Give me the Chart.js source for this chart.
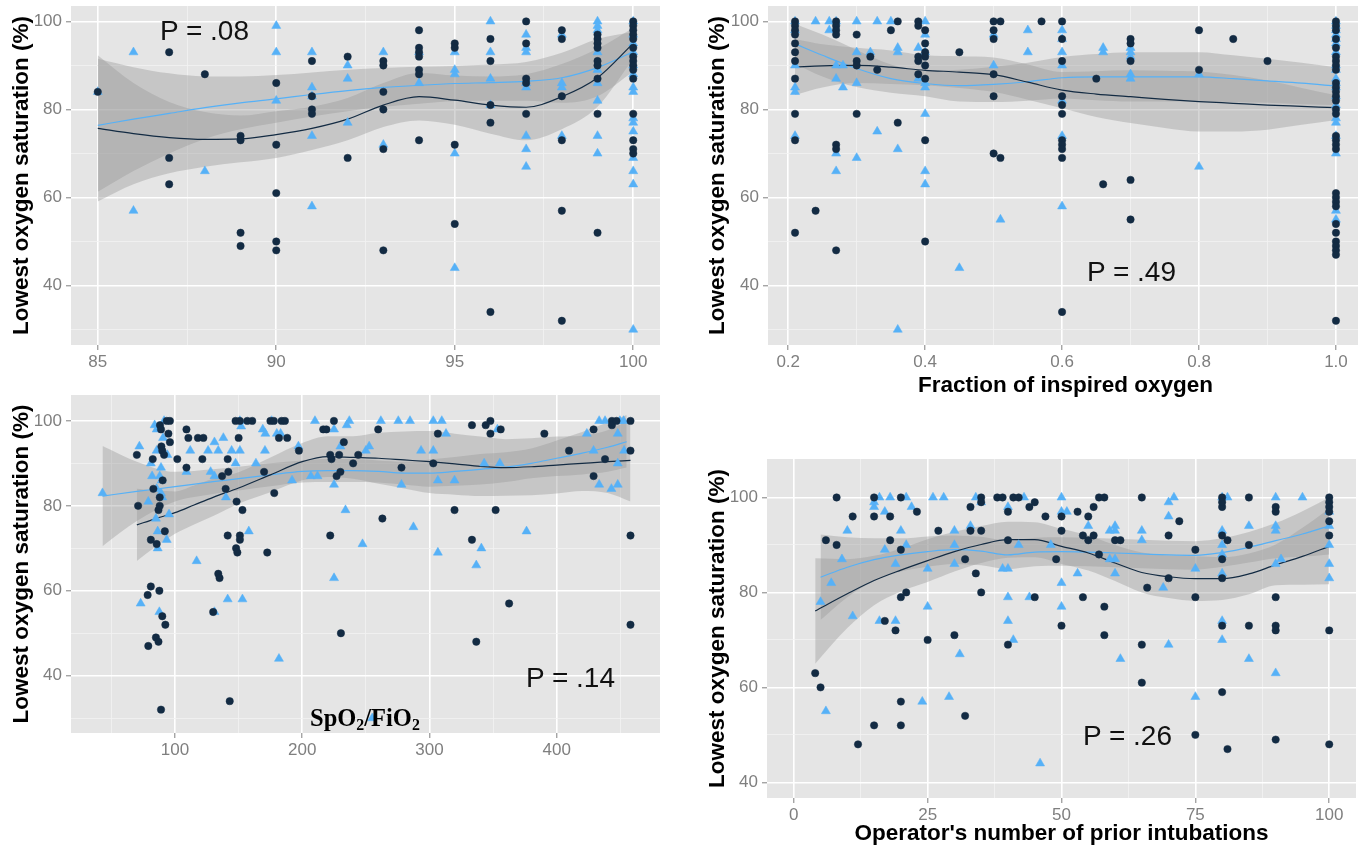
<!DOCTYPE html>
<html><head><meta charset="utf-8">
<script src="https://cdn.jsdelivr.net/npm/chart.js@4.4.1/dist/chart.umd.min.js"></script>
<style>
html,body{margin:0;padding:0;width:1358px;height:849px;overflow:hidden;background:#fff;}
canvas{position:absolute;}
.p{position:absolute;font-family:'Liberation Sans',Arial,sans-serif;font-size:28px;line-height:1;color:#111;white-space:nowrap;}
.lab{position:absolute;font-family:'Liberation Serif','Times New Roman',serif;font-weight:bold;font-size:24.5px;line-height:1;color:#000;white-space:nowrap;}
.lab sub{font-size:0.65em;vertical-align:baseline;position:relative;top:0.22em;line-height:0;}
</style></head><body>
<canvas id="c1"></canvas><canvas id="c2"></canvas><canvas id="c3"></canvas><canvas id="c4"></canvas>
<div class="p" style="left:160px;top:17px">P = .08</div>
<div class="p" style="left:1087px;top:258px">P = .49</div>
<div class="p" style="left:526px;top:664px">P = .14</div>
<div class="p" style="left:1083px;top:722px">P = .26</div>
<div class="lab" style="left:310px;top:706px">SpO<sub>2</sub>/FiO<sub>2</sub></div>
<script>
// ---------- Panel 1: pre-intubation SpO2 ----------
const spo2Dark = [[85,84],[87,93],[87,69],[87,63],[88,88],[89,74],[89,73],[89,52],[89,49],
 [90,86],[90,72],[90,61],[90,50],[90,48],[91,91],[91,83],[91,80],[91,79],[92,92],[92,69],
 [93,91],[93,90],[93,84],[93,80],[93,71],[93,48],[94,98],[94,94],[94,93],[94,92],[94,89],[94,88],[94,73],
 [95,95],[95,94],[95,72],[95,54],[96,96],[96,91],[96,81],[96,77],[96,34],
 [97,100],[97,95],[97,87],[97,86],[97,79],[98,98],[98,96],[98,83],[98,73],[98,57],[98,32],
 [99,97],[99,96],[99,95],[99,94],[99,91],[99,90],[99,87],[99,79],[99,52],
 [100,100],[100,99],[100,98],[100,97],[100,96],[100,94],[100,92],[100,91],[100,90],[100,89],[100,87],[100,79],[100,73],[100,71],[100,70]];
const spo2Blue = [[85,84],[86,93],[86,57],[88,66],[90,99],[90,93],[90,82],[91,93],[91,85],[91,83],[91,74],[91,58],
 [92,90],[92,87],[92,77],[93,93],[93,72],[94,93],[94,86],[95,93],[95,89],[95,88],[95,70],[95,44],
 [96,100],[96,93],[96,87],[96,81],[97,97],[97,94],[97,93],[97,86],[97,85],[97,74],[97,71],[97,67],
 [98,97],[98,86],[98,85],[98,74],[99,100],[99,99],[99,98],[99,93],[99,89],[99,86],[99,82],[99,74],[99,70],
 [100,100],[100,97],[100,95],[100,93],[100,90],[100,88],[100,85],[100,84],[100,78],[100,77],[100,75],[100,69],[100,66],[100,63],[100,30]];
const spo2FitX   = [85,86,87,88,89,90,91,92,93,94,95,96,97,98,99,100];
const spo2DarkFit= [75.7,74.5,73.6,73.2,73.3,74.3,75.7,77.8,81.0,82.9,82.1,81.0,80.5,82.9,87.2,95.0];
const spo2DarkLo = [59.1,63.0,65.5,67.0,68.0,69.0,70.8,73.0,76.0,77.5,76.5,74.5,73.0,75.5,80.6,91.5];
const spo2DarkHi = [92.3,86.0,81.7,79.4,78.6,79.6,80.6,82.6,86.0,88.3,87.7,87.5,88.0,90.3,93.8,98.5];
const spo2BlueFit= [76.4,77.8,79.1,80.4,81.5,82.4,83.4,84.3,85.0,85.5,85.9,86.1,86.4,87.2,89.5,93.1];
const spo2BlueLo = [61.3,66.0,70.0,73.3,75.5,77.0,78.4,79.6,80.6,81.3,81.9,82.0,82.0,81.5,83.0,88.6];
const spo2BlueHi = [91.5,89.6,88.2,87.5,87.5,87.8,88.4,89.0,89.4,89.7,89.9,90.2,90.8,92.9,96.0,97.6];
const spo2XTicks = [85,90,95,100], spo2XTickLabels = ['85','90','95','100'], spo2XMinor = [87.5,92.5,97.5];

// ---------- Panel 2: FiO2 ----------
const fio2Dark = [[0.21,100],[0.21,99],[0.21,98],[0.21,97],[0.21,95],[0.21,93],[0.21,91],[0.21,87],[0.21,79],[0.21,73],[0.21,52],
 [0.24,57],[0.27,100],[0.27,99],[0.27,98],[0.27,97],[0.27,72],[0.27,71],[0.27,48],[0.30,97],[0.30,91],[0.30,90],[0.30,79],
 [0.32,92],[0.33,89],[0.35,98],[0.36,100],[0.36,77],[0.39,100],[0.39,99],[0.39,92],[0.39,91],[0.39,88],
 [0.40,98],[0.40,95],[0.40,93],[0.40,92],[0.40,90],[0.40,87],[0.40,73],[0.40,50],[0.45,93],
 [0.50,100],[0.50,98],[0.50,96],[0.50,88],[0.50,83],[0.50,70],[0.51,100],[0.51,69],[0.57,100],
 [0.60,100],[0.60,96],[0.60,91],[0.60,83],[0.60,81],[0.60,79],[0.60,73],[0.60,72],[0.60,71],[0.60,69],[0.60,34],
 [0.65,87],[0.66,63],[0.70,96],[0.70,95],[0.70,91],[0.70,64],[0.70,55],[0.80,98],[0.80,89],[0.85,96],[0.90,91],
 [1,100],[1,99],[1,98],[1,96],[1,94],[1,92],[1,91],[1,90],[1,89],[1,86],[1,85],[1,84],[1,83],[1,82],[1,80],[1,79],
 [1,74],[1,73],[1,72],[1,71],[1,61],[1,60],[1,59],[1,58],[1,54],[1,52],[1,50],[1,49],[1,48],[1,47],[1,32]];
const fio2Blue = [[0.21,100],[0.21,98],[0.21,90],[0.21,85],[0.21,84],[0.21,74],[0.24,100],[0.26,100],[0.26,98],
 [0.27,100],[0.27,90],[0.27,87],[0.27,70],[0.27,66],[0.28,90],[0.28,85],[0.30,100],[0.30,93],[0.30,86],[0.30,69],
 [0.32,93],[0.33,100],[0.33,75],[0.35,100],[0.36,94],[0.36,93],[0.36,71],[0.36,30],[0.39,94],[0.39,87],
 [0.40,100],[0.40,97],[0.40,93],[0.40,86],[0.40,85],[0.40,79],[0.40,66],[0.40,63],[0.45,44],[0.50,97],[0.50,90],[0.51,55],
 [0.55,98],[0.55,93],[0.60,98],[0.60,96],[0.60,93],[0.60,90],[0.60,82],[0.60,74],[0.60,58],[0.66,94],[0.66,93],
 [0.70,94],[0.70,93],[0.70,92],[0.70,88],[0.70,87],[0.80,88],[0.80,67],
 [1,100],[1,99],[1,98],[1,97],[1,96],[1,95],[1,93],[1,90],[1,89],[1,87],[1,86],[1,85],[1,83],[1,81],[1,78],[1,77],[1,74],[1,70],[1,57],[1,55]];
const fio2FitX    = [0.21,0.25,0.3,0.35,0.4,0.45,0.5,0.55,0.6,0.65,0.7,0.75,0.8,0.85,0.9,0.95,1.0];
const fio2DarkFit = [89.6,89.9,90.0,89.6,88.9,88.5,87.9,86.2,84.4,83.5,82.9,82.3,81.8,81.4,81.0,80.7,80.4];
const fio2DarkLo  = [83.3,85.0,86.0,85.8,85.5,84.9,84.0,82.2,80.3,78.3,76.9,75.8,75.0,75.0,75.4,76.5,77.6];
const fio2DarkHi  = [96.0,94.8,94.0,93.4,92.3,92.1,91.8,90.2,88.5,88.7,88.9,88.8,88.6,87.8,86.6,84.9,83.2];
const fio2BlueFit = [94.9,92.3,89.3,87.0,85.9,85.4,85.7,86.3,87.2,87.4,87.4,87.4,87.4,87.0,86.5,86.0,85.3];
const fio2BlueLo  = [90.4,87.5,85.1,83.8,83.0,81.8,81.7,82.0,82.5,82.1,81.8,81.8,81.8,81.7,81.5,81.2,81.0];
const fio2BlueHi  = [99.4,97.0,93.5,90.2,88.8,89.0,89.7,90.6,91.9,92.6,93.0,93.0,93.0,92.3,91.5,90.6,89.6];
const fio2XTicks = [0.2,0.4,0.6,0.8,1.0], fio2XTickLabels = ['0.2','0.4','0.6','0.8','1.0'], fio2XMinor = [0.3,0.5,0.7,0.9];

// ---------- Panel 3: SpO2/FiO2 ----------
const sfDark = [[70,92],[71,80],[79,47],[78.5,59],[81,61],[81,72],[82.5,91],[83,84],[85.6,71],[85,49],[87,48],[87.7,60],
 [87,79],[88,80],[88,82],[88.2,99],[89,98],[89.3,94],[90,93],[90.3,86],[91.4,92],[92,74],[92.4,52],[90,54],[89,32],
 [93.5,100],[96,100],[94.8,97],[96,95],[101.8,91],[109,98],[110.5,96],[109,89],[118,96],[122.3,96],[121.5,91],
 [134,64],[135,63],[130,55],[137,87],[139.8,84],[141.9,88],[141.4,91],[141.4,73],[143,34],[147.6,100],[151,100],
 [150,96],[148.4,81],[153,79],[151,73],[151,72],[148,70],[149,69],[156.8,100],[160.7,100],[170,88],[172.5,69],
 [178,83],[175,100],[177.7,100],[181.7,96],[188.2,96],[183.8,100],[186.4,100],[197.4,93],[216.5,98],[219,98],
 [222,73],[222,92],[223,91],[224.9,100],[232.7,95],[229,92],[230.4,50],[227,87],[230,88],[240,90],[244,92],
 [259.7,98],[263,77],[278,89],[303,90],[306.6,97],[319.7,79],[333.4,99],[333.4,72],[336.8,48],[344.2,99],
 [347.9,100],[347.9,97],[352,79],[356,98],[362.6,57],[390.3,97],[409.7,93],[429,87],[429,98],[438,91],
 [443.4,100],[443.4,99],[447,100],[458,100],[458,93],[458,73],[458,52]];
const sfBlue = [[43,83],[72,94],[73,57],[79,81],[81,90],[82,87],[84,99],[85,77],[85.6,98],[85.6,93],[85.6,84],
 [86.4,70],[86.4,74],[87.7,55],[88,87],[89.5,86],[89,89],[90,82],[89,83],[91.4,100],[90.6,96],[93.5,72],[94,92],
 [95.3,78],[109,88],[112,93],[117,67],[126,93],[131,95],[134,93],[138,96],[128,88],[131,87],[131,55],[140,82],
 [141.4,58],[144.5,93],[147.6,90],[151,93],[151,100],[152,98.7],[153,58],[158,74],[163.6,90],[169,98],[171,97],
 [170.7,93],[176,100],[180,97],[183,97],[181.7,44],[192,86],[197,94],[206.8,87],[212,87],[210,100],[225,98],
 [225,85],[225,63],[230,94],[234,79],[235,99],[237,100],[247.4,71],[250,93],[255,30],
 [252.6,94],[261.8,100],[275.5,100],[284.7,100],[303,100],[309.7,100],[313,97],[293.4,93],[303,93],[278,85],
 [287.4,75],[306.6,86],[319.7,86],[306.6,69],[340.8,70],[336.8,66],[343,90],[355.3,90],[353.4,98],[376.3,74],
 [423.7,97],[429,93],[433.4,85],[433.4,100],[438,100],[443,84],[448,85],[448,97],[448,90],[449.7,100],[452.6,100],[453,93]];
const sfDarkFitX = [70,85,100,115,130,150,175,200,220,240,260,280,300,320,340,360,380,400,420,440,458];
const sfDarkFit  = [75.5,77.0,78.4,80.2,82.0,84.2,87.3,90.4,91.6,91.4,91.2,90.8,90.4,89.9,89.3,89.0,89.2,89.6,90.0,90.4,90.7];
const sfDarkLo   = [67.0,70.4,73.4,75.6,77.6,80.5,83.2,86.0,86.8,86.4,85.2,84.1,83.0,82.6,82.3,82.4,82.5,82.9,83.5,83.0,81.0];
const sfDarkHi   = [84.0,83.6,83.4,84.8,86.4,87.9,91.4,94.8,96.4,96.4,97.2,97.5,97.6,97.0,96.3,95.7,95.9,96.3,96.5,97.8,100.4];
const sfBlueFitX = [43,70,100,130,150,175,200,220,240,260,280,300,320,340,360,380,400,420,440,455];
const sfBlueFit  = [82.3,83.4,84.5,85.7,86.4,87.3,88.1,88.3,88.3,88.1,87.7,87.7,88.1,88.6,89.1,90.0,91.2,92.4,93.8,95.1];
const sfBlueLo   = [70.5,76.4,81.0,82.8,83.6,84.6,85.5,85.6,85.6,85.5,85.0,84.5,84.7,85.0,85.6,86.5,87.0,87.4,88.0,89.0];
const sfBlueHi   = [94.1,90.4,88.0,88.6,89.2,90.0,90.7,91.0,91.0,90.7,90.4,90.9,91.5,92.2,92.6,93.5,95.4,97.4,99.6,101.4];
const sfXTicks = [100,200,300,400], sfXTickLabels = ['100','200','300','400'], sfXMinor = [50,150,250,350,450];

// ---------- Panel 4: operator's prior intubations ----------
const opDark = [[4,63],[5,60],[6,91],[8,100],[8,90],[11,96],[12,48],[15,100],[15,96],[15,52],[17,74],[18,96],[18,91],
 [19,72],[20,100],[20,89],[20,79],[21,80],[20,57],[20,52],[23,97],[25,70],[27,93],[30,71],[32,87],[32,54],[33,98],
 [33,93],[35,93],[34,84],[35,100],[35,99],[35,80],[38,100],[39,100],[41,100],[42,100],[40,97],[40,91],[40,69],
 [44,98],[45,99],[45,79],[47,96],[49,87],[50,96],[50,93],[50,73],[53,97],[55,96],[56,98],[54,92],[55,91],[56,92],
 [57,88],[57,100],[58,100],[58,77],[58,71],[54,79],[60,91],[61,91],[65,100],[65,69],[65,61],[66,81],[70,92],[70,83],
 [72,95],[75,89],[75,79],[75,50],[80,100],[80,98],[80,99],[80,92],[80,87],[80,83],[80,73],[80,59],[81,91],[81,47],
 [85,100],[85,90],[85,73],[90,98],[90,97],[90,79],[90,73],[90,72],[90,49],
 [100,100],[100,99],[100,98],[100,97],[100,95],[100,92],[100,72],[100,48]];
const opBlue = [[5,78],[6,55],[7,82],[9,87],[10,93],[11,75],[15,98],[15,99],[16,100],[18,100],[17,97],[16,74],[19,74],
 [17,89],[19,86],[20,93],[21,100],[22,98],[21,90],[24,57],[25,77],[25,85],[26,100],[28,100],[29,58],[30,93],[30,90],
 [30,86],[31,67],[33,94],[34,100],[35,99],[39,85],[40,85],[40,79],[40,74],[40,98],[41,70],[42,90],[43,100],[44,79],
 [46,44],[48,90],[50,100],[50,97],[50,82],[50,77],[51,97],[53,84],[55,94],[59,93],[60,94],[60,93],[59,87],[60,87],
 [60,84],[61,66],[65,93],[65,91],[69,81],[70,99],[71,100],[70,96],[70,69],[80,100],[81,100],[80,93],[80,90],[80,88],
 [80,84],[80,74],[80,70],[75,85],[75,58],[85,94],[85,66],[90,100],[90,94],[90,93],[90,86],[91,87],[90,63],[95,100],
 [100,97],[100,94],[100,90],[100,86],[100,83]];
const opDarkFitX = [4,10,15,20,25,30,35,40,45,50,55,60,65,70,75,80,85,90,95,100];
const opDarkFit  = [76.1,79.7,82.5,84.7,86.7,88.6,90.1,91.1,91.1,89.7,88.3,86.2,84.2,83.3,82.9,82.9,83.9,85.8,87.6,89.7];
const opDarkLo   = [65.0,72.5,77.3,80.2,82.2,84.4,86.2,87.3,87.4,86.0,84.6,82.4,80.0,78.8,78.2,78.4,79.6,81.5,81.6,81.7];
const opDarkHi   = [87.2,87.0,87.7,89.2,91.2,92.8,94.0,94.9,94.8,93.4,92.0,90.0,88.4,87.8,87.6,87.4,88.2,90.1,93.6,97.7];
const opBlueFitX = [5,10,15,20,25,30,35,40,45,50,55,60,65,70,75,80,85,90,95,100];
const opBlueFit  = [83.2,85.3,86.9,87.9,88.6,89.0,88.7,87.9,88.5,88.6,88.5,88.3,88.1,87.9,87.8,88.4,89.5,90.9,92.3,94.0];
const opBlueLo   = [74.2,79.0,82.4,84.4,85.4,86.0,85.7,84.9,85.5,85.6,85.5,85.3,85.1,84.9,84.8,85.4,86.3,87.2,87.5,88.0];
const opBlueHi   = [92.2,91.6,91.4,91.4,91.8,92.0,91.7,90.9,91.5,91.6,91.5,91.3,91.1,90.9,90.8,91.4,92.7,94.6,97.1,100.0];
const opXTicks = [0,25,50,75,100], opXTickLabels = ['0','25','50','75','100'], opXMinor = [12.5,37.5,62.5,87.5];

// shared y ticks
const yTicks = [40,60,80,100], yTickLabels = ['40','60','80','100'];
const yMinorA = [30,50,70,90], yMinorB = [50,70,90];
const yTitle = 'Lowest oxygen saturation (%)';

const DARK = '#132B43', BLUE = '#56B1F7', BAND = 'rgba(153,153,153,0.4)';
const NARROW = "'Liberation Sans Narrow','Liberation Sans',Arial,sans-serif";
const SANS = "'Liberation Sans',Arial,sans-serif";
const TICKC = '#7f7f7f';

const bgPlugin = {id:'panelbg', beforeDraw(chart){const a=chart.chartArea,c=chart.ctx;c.save();c.fillStyle='#E5E5E5';c.fillRect(a.left,a.top,a.right-a.left,a.bottom-a.top);c.restore();}};

function pairs(p){return p.map(d=>({x:d[0],y:d[1]}));}
function zip(xs,ys){return xs.map((x,i)=>({x:x,y:ys[i]}));}

function axis(min,max,major,labels,minor,fitSize,horizontal,title,titlePad){
  const isMajor=v=>major.some(m=>Math.abs(m-v)<1e-9);
  return {
    type:'linear', min:min, max:max,
    afterBuildTicks:s=>{ s.ticks = major.concat(minor).sort((a,b)=>a-b).map(v=>({value:v})); },
    afterFit:s=>{ if(horizontal){s.height=fitSize;} else {s.width=fitSize;} s.paddingLeft=0;s.paddingRight=0;s.paddingTop=0;s.paddingBottom=0; },
    border:{display:false},
    grid:{
      color:c=>(c.tick&&isMajor(c.tick.value))?'#FFFFFF':'#F2F2F2',
      lineWidth:c=>(c.tick&&isMajor(c.tick.value))?1.6:0.8,
      tickColor:c=>(c.tick&&isMajor(c.tick.value))?TICKC:'rgba(0,0,0,0)',
      tickWidth:1, tickLength:5, drawTicks:true
    },
    ticks:{autoSkip:false,maxRotation:0,minRotation:0,padding:horizontal?2:4,color:TICKC,
      font:{family:NARROW,size:17},
      callback:(v)=>{const i=major.findIndex(m=>Math.abs(m-v)<1e-9);return i>=0?labels[i]:'';}},
    title: title?{display:true,text:title,color:'#000',font:{family:SANS,size:22.5,weight:'bold'},
      padding: horizontal?{top:0,bottom:titlePad}:{top:titlePad,bottom:0}}:{display:false}
  };
}

function makePanel(o){
  const cv=document.getElementById(o.id);
  cv.width=o.w; cv.height=o.h; cv.style.left=o.left+'px'; cv.style.top=o.top+'px';
  const line=(data,col)=>({data:data,borderColor:col,borderWidth:1.2,pointRadius:0,cubicInterpolationMode:'monotone',fill:false,order:2});
  const edge=(data,fill)=>({data:data,borderColor:'rgba(0,0,0,0)',borderWidth:1,pointRadius:0,cubicInterpolationMode:'monotone',fill:fill,backgroundColor:BAND,order:3});
  new Chart(cv,{
    type:'line',
    data:{datasets:[
      {data:pairs(o.dark),showLine:false,pointStyle:'circle',pointRadius:3.7,pointBackgroundColor:DARK,pointBorderColor:DARK,pointBorderWidth:0.5,order:0},
      {data:pairs(o.blue),showLine:false,pointStyle:'triangle',pointRadius:5.2,pointBackgroundColor:BLUE,pointBorderColor:BLUE,pointBorderWidth:0.5,order:1},
      line(zip(o.dfx,o.dfit),DARK),
      line(zip(o.bfx,o.bfit),BLUE),
      edge(zip(o.dfx,o.dhi),false),
      edge(zip(o.dfx,o.dlo),'-1'),
      edge(zip(o.bfx,o.bhi),false),
      edge(zip(o.bfx,o.blo),'-1')
    ]},
    options:{
      responsive:false,animation:false,devicePixelRatio:1,
      layout:{autoPadding:false,padding:{top:o.padTop,left:0,right:0,bottom:0}},
      plugins:{legend:{display:false},tooltip:{enabled:false}},
      elements:{point:{hoverRadius:0}},
      scales:{
        x:axis(o.xmin,o.xmax,o.xt,o.xl,o.xm,o.xH,true,o.xTitle,o.xTitlePad),
        y:axis(o.ymin,o.ymax,yTicks,yTickLabels,o.ym,71,false,yTitle,o.yTitlePad)
      }
    },
    plugins:[bgPlugin]
  });
}

makePanel({id:'c1',left:0,top:0,w:660,h:380,padTop:6,xH:35,
  xmin:84.25,xmax:100.75,xt:spo2XTicks,xl:spo2XTickLabels,xm:spo2XMinor,
  ymin:26.5,ymax:103.5,ym:yMinorA,yTitlePad:8.5,
  dark:spo2Dark,blue:spo2Blue,dfx:spo2FitX,dfit:spo2DarkFit,dlo:spo2DarkLo,dhi:spo2DarkHi,
  bfx:spo2FitX,bfit:spo2BlueFit,blo:spo2BlueLo,bhi:spo2BlueHi});
makePanel({id:'c2',left:697,top:0,w:666,h:400,padTop:6,xH:55,
  xmin:0.1705,xmax:1.0395,xt:fio2XTicks,xl:fio2XTickLabels,xm:fio2XMinor,
  xTitle:'Fraction of inspired oxygen',xTitlePad:0.5,
  ymin:26.5,ymax:103.5,ym:yMinorA,yTitlePad:7.5,
  dark:fio2Dark,blue:fio2Blue,dfx:fio2FitX,dfit:fio2DarkFit,dlo:fio2DarkLo,dhi:fio2DarkHi,
  bfx:fio2FitX,bfit:fio2BlueFit,blo:fio2BlueLo,bhi:fio2BlueHi});
makePanel({id:'c3',left:0,top:390,w:660,h:380,padTop:5,xH:37,
  xmin:18.25,xmax:481.2,xt:sfXTicks,xl:sfXTickLabels,xm:sfXMinor,
  ymin:26.5,ymax:106.1,ym:yMinorA,yTitlePad:8.5,
  dark:sfDark,blue:sfBlue,dfx:sfDarkFitX,dfit:sfDarkFit,dlo:sfDarkLo,dhi:sfDarkHi,
  bfx:sfBlueFitX,bfit:sfBlueFit,blo:sfBlueLo,bhi:sfBlueHi});
makePanel({id:'c4',left:696,top:455,w:660,h:394,padTop:4,xH:51,
  xmin:-5,xmax:105,xt:opXTicks,xl:opXTickLabels,xm:opXMinor,
  xTitle:"Operator's number of prior intubations",xTitlePad:1.5,
  ymin:36.7,ymax:108.1,ym:yMinorB,yTitlePad:8.5,
  dark:opDark,blue:opBlue,dfx:opDarkFitX,dfit:opDarkFit,dlo:opDarkLo,dhi:opDarkHi,
  bfx:opBlueFitX,bfit:opBlueFit,blo:opBlueLo,bhi:opBlueHi});
</script>
</body></html>
